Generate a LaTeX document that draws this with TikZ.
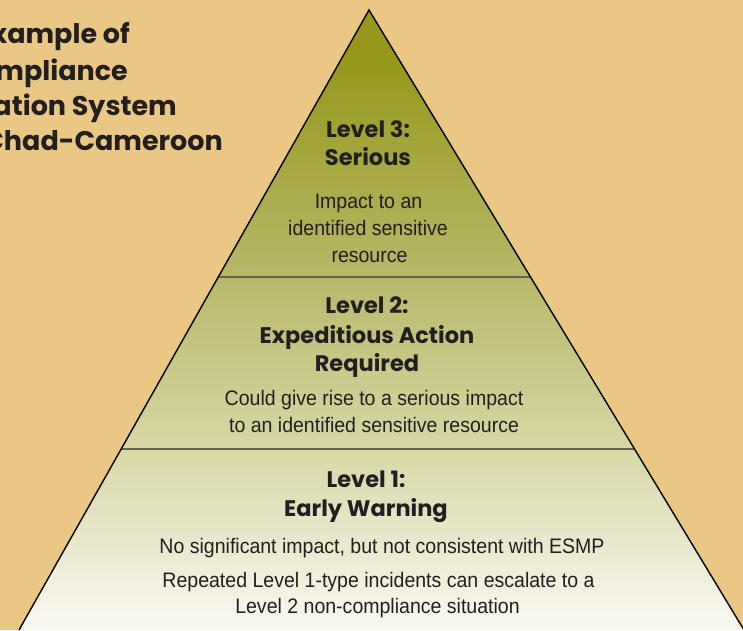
\documentclass[tikz,border=0pt]{standalone}
\usepackage{fontspec}
\setmainfont{Liberation Sans}
\newfontfamily\gothic{Poppins}
\newfontfamily\narrow[FakeStretch=0.93]{Liberation Sans}
\usetikzlibrary{calc}
\definecolor{bgtan}{HTML}{E9C886}
\definecolor{inkdark}{HTML}{231F20}
\definecolor{divline}{HTML}{66634A}
\definecolor{shA}{HTML}{FAF9F2}
\definecolor{shB}{HTML}{D7D7A6}
\definecolor{shC}{HTML}{B8B86A}
\definecolor{shD}{HTML}{95981A}
% pgf fits the middle 50bp (25bp..75bp) of the shading to the path
\pgfdeclareverticalshading{pyrshade}{100bp}{color(0bp)=(shA); color(25bp)=(shA); color(39.6bp)=(shB); color(53.5bp)=(shC); color(71bp)=(shD); color(100bp)=(shD)}
\tikzset{
  title/.style={font=\gothic\bfseries\fontsize{27}{32}\selectfont, text=inkdark, anchor=base east, inner sep=0pt},
  head/.style={font=\gothic\bfseries\fontsize{22.5}{27}\selectfont, text=inkdark, anchor=base, inner sep=0pt},
  body/.style={font=\narrow\fontsize{21}{26}\selectfont, text=inkdark, anchor=base, inner sep=0pt},
  divider/.style={draw=divline, line width=2pt},
  edge/.style={draw=black, line width=1.4pt, line join=miter}
}
\begin{document}
\begin{tikzpicture}[x=1pt,y=-1pt]
\useasboundingbox (0,0) rectangle (743,630);
\fill[bgtan] (0,0) rectangle (743,630);
% title
\node[title] (t1) at (130,43) {xample of};
\node[title] (t2) at (128,80) {mpliance};
\node[title] (t3) at (177,115) {ation System};
\node[title] (t4) at (223,150) {Chad-Cameroon};
% pyramid
\coordinate (apex) at (369,10);
\coordinate (bl) at (19,630);
\coordinate (br) at (744,630);
\coordinate (l3) at ($(apex)!{267/620}!(bl)$);
\coordinate (r3) at ($(apex)!{267/620}!(br)$);
\coordinate (l2) at ($(apex)!{439/620}!(bl)$);
\coordinate (r2) at ($(apex)!{439/620}!(br)$);
\path[shading=pyrshade] (apex) -- (br) -- (bl) -- cycle;
\draw[divider] (l3) -- (r3);
\draw[divider] (l2) -- (r2);
\draw[edge] (bl) -- (apex) -- (br);
% level 3
\node[head] (h3a) at (368,137) {Level 3:};
\node[head] (h3b) at (368,165) {Serious};
\node[body] (b3a) at (368.5,208) {Impact to an};
\node[body] (b3b) at (368,235) {identified sensitive};
\node[body] (b3c) at (369.5,262) {resource};
% level 2
\node[head] (h2a) at (367,313) {Level 2:};
\node[head] (h2b) at (367,343) {Expeditious Action};
\node[head] (h2c) at (367,371) {Required};
\node[body] (b2a) at (374,405) {Could give rise to a serious impact};
\node[body] (b2b) at (374,432) {to an identified sensitive resource};
% level 1
\node[head] (h1a) at (366,487) {Level 1:};
\node[head] (h1b) at (366,516) {Early Warning};
\node[body] (b1a) at (382,553) {No significant impact, but not consistent with ESMP};
\node[body] (b1b) at (378.5,587) {Repeated Level 1-type incidents can escalate to a};
\node[body] (b1c) at (377.5,613) {Level 2 non-compliance situation};
\end{tikzpicture}
\end{document}
